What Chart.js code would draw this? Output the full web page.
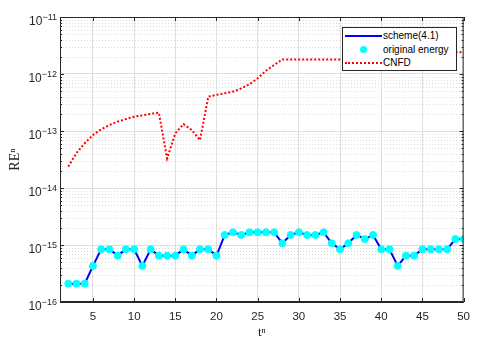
<!DOCTYPE html>
<html>
<head>
<meta charset="utf-8">
<script src="https://cdn.jsdelivr.net/npm/chart.js@4.4.0/dist/chart.umd.min.js"></script>
<style>
html, body { margin: 0; padding: 0; background: #fff; }
#wrap { position: relative; width: 478px; height: 344px; }
#legend {
  position: absolute; left: 342px; top: 27px; width: 115px; height: 44px;
  box-sizing: border-box; border: 1px solid #262626; background: #fff;
  font: 10px "Liberation Sans", Arial, sans-serif; color: #000; padding-top: 1px;
}
.row { position: relative; height: 13.7px; line-height: 13.7px; padding-left: 40px; white-space: nowrap; }
.sw { position: absolute; left: 2px; width: 37px; top: 6px; }
.line { border-top: 2px solid #0000ff; }
.dots { border-top: 2px dotted #ff0000; }
.dot { position: absolute; left: 17px; top: 3.5px; width: 7px; height: 7px; border-radius: 50%; background: #00ffff; }
</style>
</head>
<body>
<div id="wrap">
  <canvas id="reChart" width="478" height="344"></canvas>
  <div id="legend">
    <div class="row"><span class="sw line"></span>scheme(4.1)</div>
    <div class="row"><span class="dot"></span>original energy</div>
    <div class="row"><span class="sw dots"></span>CNFD</div>
  </div>
</div>
<script>
// time steps n
const steps = [2, 3, 4, 5, 6, 7, 8, 9, 10, 11, 12, 13, 14, 15, 16, 17, 18, 19, 20,
  21, 22, 23, 24, 25, 26, 27, 28, 29, 30, 31, 32, 33, 34, 35, 36, 37, 38, 39, 40,
  41, 42, 43, 44, 45, 46, 47, 48, 49, 50];

// relative energy error, scheme(4.1) (same values as original energy markers)
const schemeErr = [2.1e-16, 2.1e-16, 2.1e-16, 4.3e-16, 8.4e-16, 8.4e-16, 6.5e-16, 8.4e-16, 8.4e-16,
  4.3e-16, 8.4e-16, 6.5e-16, 6.5e-16, 6.5e-16, 8.4e-16, 6.5e-16, 8.4e-16, 8.4e-16, 6.5e-16,
  1.5e-15, 1.67e-15, 1.5e-15, 1.67e-15, 1.67e-15, 1.67e-15, 1.67e-15, 1.07e-15, 1.5e-15, 1.67e-15,
  1.5e-15, 1.5e-15, 1.67e-15, 1.07e-15, 8.4e-16, 1.07e-15, 1.5e-15, 1.27e-15, 1.5e-15, 8.4e-16,
  8.4e-16, 4.3e-16, 6.5e-16, 6.5e-16, 8.4e-16, 8.4e-16, 8.4e-16, 8.4e-16, 1.27e-15, 1.27e-15];
const energyErr = schemeErr.slice();

// CNFD relative energy error
const cnfdErr = [2.37e-14, 4.1e-14, 6.1e-14, 8.5e-14, 1.07e-13, 1.27e-13, 1.46e-13, 1.62e-13, 1.78e-13,
  1.88e-13, 2.0e-13, 2.1e-13, 3.3e-14, 9.1e-14, 1.32e-13, 1.04e-13, 6.9e-14, 4.0e-13, 4.3e-13,
  4.6e-13, 4.9e-13, 5.6e-13, 6.6e-13, 8.4e-13, 1.14e-12, 1.44e-12, 1.8e-12, 1.8e-12, 1.8e-12,
  1.8e-12, 1.8e-12, 1.8e-12, 1.8e-12, 1.8e-12, 1.8e-12, 1.8e-12, 1.8e-12, 1.8e-12, 1.8e-12,
  1.8e-12, 1.8e-12, 1.8e-12, 1.8e-12, 1.8e-12, 1.8e-12, 1.8e-12, 1.8e-12, 2.4e-12, 2.4e-12];

const xTicks = [5, 10, 15, 20, 25, 30, 35, 40, 45, 50];
const yTicks = [1e-16, 1e-15, 1e-14, 1e-13, 1e-12, 1e-11];

const toPts = arr => arr.map((v, i) => ({ x: steps[i], y: v }));
const axisColor = '#262626';
const sansFont = '"Liberation Sans", Arial, sans-serif';

// minor log grid, box, inward ticks and 10^k labels like matlab
const framePlugin = {
  id: 'frame',
  beforeDatasetsDraw(chart) {
    const { ctx, chartArea: a, scales: { y } } = chart;
    ctx.save();
    ctx.strokeStyle = '#dcdcdc';
    ctx.lineWidth = 1;
    ctx.setLineDash([1, 2]);
    for (let d = -16; d < -11; d++) {
      for (let m = 2; m <= 9; m++) {
        const py = Math.round(y.getPixelForValue(m * Math.pow(10, d))) + 0.5;
        ctx.beginPath();
        ctx.moveTo(a.left, py);
        ctx.lineTo(a.right, py);
        ctx.stroke();
      }
    }
    ctx.restore();
  },
  afterDraw(chart) {
    const { ctx, chartArea: a, scales: { x, y } } = chart;
    ctx.save();
    ctx.strokeStyle = axisColor;
    ctx.lineWidth = 1;
    ctx.strokeRect(a.left + 0.5, a.top + 0.5, a.right - a.left - 1, a.bottom - a.top - 1);
    ctx.beginPath();
    xTicks.forEach(v => {
      const px = Math.round(x.getPixelForValue(v)) + 0.5;
      ctx.moveTo(px, a.bottom); ctx.lineTo(px, a.bottom - 4);
      ctx.moveTo(px, a.top); ctx.lineTo(px, a.top + 4);
    });
    for (let d = -16; d < -10; d++) {
      const py = Math.round(y.getPixelForValue(Math.pow(10, d))) + 0.5;
      ctx.moveTo(a.left, py); ctx.lineTo(a.left + 4, py);
      ctx.moveTo(a.right, py); ctx.lineTo(a.right - 4, py);
      if (d < -11) {
        for (let m = 2; m <= 9; m++) {
          const pm = Math.round(y.getPixelForValue(m * Math.pow(10, d))) + 0.5;
          ctx.moveTo(a.left, pm); ctx.lineTo(a.left + 2, pm);
          ctx.moveTo(a.right, pm); ctx.lineTo(a.right - 2, pm);
        }
      }
    }
    ctx.stroke();

    // y tick labels: "10" with raised exponent
    ctx.fillStyle = axisColor;
    ctx.textBaseline = 'alphabetic';
    yTicks.forEach(v => {
      const py = y.getPixelForValue(v);
      const exp = String(Math.round(Math.log10(v))).replace('-', '\u2212');
      ctx.font = '9px ' + sansFont;
      const ew = ctx.measureText(exp).width;
      ctx.textAlign = 'right';
      ctx.fillText(exp, a.left - 3, py + 3);
      ctx.font = '12px ' + sansFont;
      ctx.fillText('10', a.left - 3 - ew, py + 8);
    });
    ctx.restore();
  }
};

new Chart(document.getElementById('reChart'), {
  type: 'line',
  data: {
    datasets: [
      {
        label: 'original energy',
        data: toPts(energyErr),
        showLine: false,
        pointRadius: 3.5,
        pointBackgroundColor: '#00ffff',
        pointBorderColor: '#00ffff',
        order: 0
      },
      {
        label: 'scheme(4.1)',
        data: toPts(schemeErr),
        borderColor: '#0000ff',
        borderWidth: 2,
        pointRadius: 0,
        tension: 0,
        order: 1
      },
      {
        label: 'CNFD',
        data: toPts(cnfdErr),
        borderColor: '#ff0000',
        borderWidth: 2,
        borderDash: [2, 2],
        pointRadius: 0,
        tension: 0,
        order: 2
      }
    ]
  },
  options: {
    responsive: false,
    animation: false,
    layout: { padding: { top: 17, right: 12, left: 0, bottom: 0 } },
    plugins: {
      legend: { display: false },
      tooltip: { enabled: false }
    },
    scales: {
      x: {
        type: 'linear',
        min: 1,
        max: 50,
        afterBuildTicks: s => { s.ticks = xTicks.map(v => ({ value: v })); },
        afterFit: s => { s.height = 42; },
        grid: { color: '#dedede', drawTicks: false },
        border: { display: true, color: axisColor },
        ticks: {
          padding: 8,
          color: axisColor,
          font: { family: sansFont, size: 11.5 }
        },
        title: {
          display: true,
          text: 't\u207F',
          color: axisColor,
          padding: { top: 0, bottom: 4 },
          font: { family: '"Liberation Serif", "Times New Roman", serif', size: 13 }
        }
      },
      y: {
        type: 'logarithmic',
        min: 1e-16,
        max: 1e-11,
        afterBuildTicks: s => { s.ticks = yTicks.map(v => ({ value: v })); },
        afterFit: s => { s.width = 60; },
        grid: { color: '#dedede', drawTicks: false },
        border: { display: true, color: axisColor },
        ticks: { display: false },
        title: {
          display: true,
          text: 'RE\u207F',
          color: axisColor,
          padding: { top: 7, bottom: 0 },
          font: { family: '"Liberation Serif", "Times New Roman", serif', size: 14 }
        }
      }
    }
  },
  plugins: [framePlugin]
});
</script>
</body>
</html>
